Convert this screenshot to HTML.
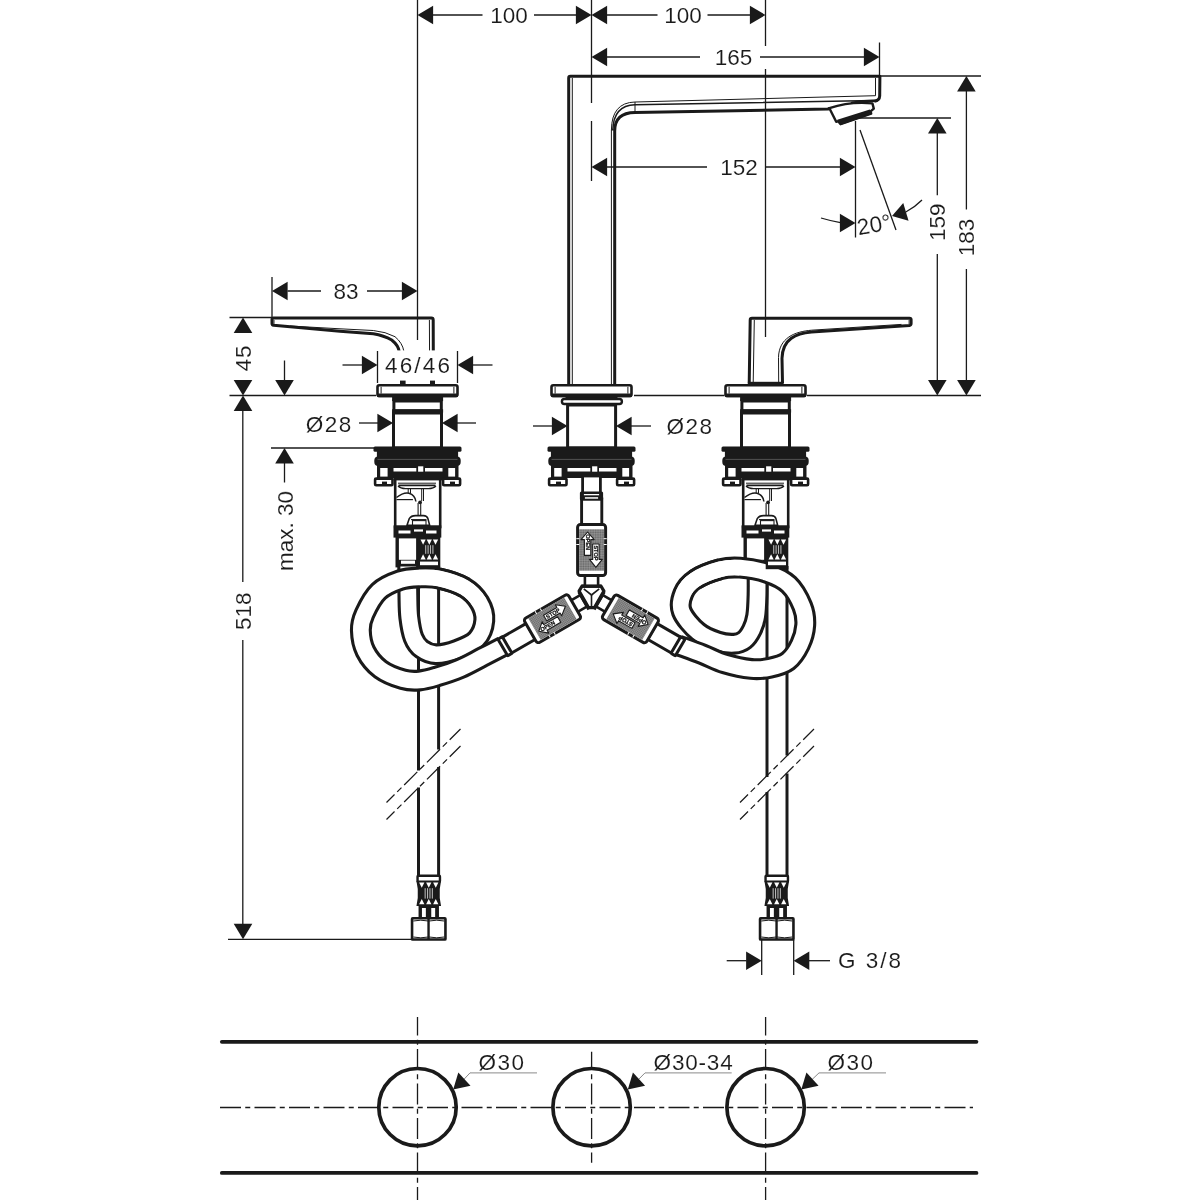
<!DOCTYPE html>
<html lang="en">
<head>
<meta charset="utf-8">
<title>Dimensional drawing</title>
<style>
html,body{margin:0;padding:0;background:#fff;}
body{width:1200px;height:1200px;overflow:hidden;}
svg{display:block;will-change:transform;}
svg text{font-family:"Liberation Sans",sans-serif;fill:#1a1a1a;stroke:#fff;stroke-width:0.12px;}
svg line, svg path, svg polyline, svg circle, svg rect, svg ellipse{stroke:#1a1a1a;fill:none;}
svg .ar{fill:#1a1a1a;stroke:none;}
svg .k{fill:#1a1a1a;stroke:none;}
svg .w{fill:#fff;stroke:none;}
svg .wf{fill:#fff;stroke:#1a1a1a;}
svg .g{fill:#8a8a8a;stroke:none;}
</style>
</head>
<body>
<svg width="1200" height="1200" viewBox="0 0 1200 1200">
<rect class="w" x="0" y="0" width="1200" height="1200"/>
<g id="bottom">
<line x1="221.8" y1="1041.8" x2="976.5" y2="1041.8" stroke-width="3.7" stroke-linecap="round"/>
<line x1="221.8" y1="1172.9" x2="976.5" y2="1172.9" stroke-width="3.7" stroke-linecap="round"/>
<line x1="220" y1="1107.5" x2="973" y2="1107.5" stroke-width="1.3" stroke-dasharray="21 4.25 5 4.25"/>
<line x1="417.5" y1="1017" x2="417.5" y2="1200" stroke-width="1.3" stroke-dasharray="21 4.25 5 4.25" stroke-dashoffset="2.5"/>
<circle cx="417.5" cy="1107.2" r="38.7" stroke-width="3.7"/>
<line x1="591.6" y1="1051.8" x2="591.6" y2="1162.8" stroke-width="1.3" stroke-dasharray="21 4.25 5 4.25" stroke-dashoffset="2.8"/>
<circle cx="591.6" cy="1107.2" r="38.7" stroke-width="3.7"/>
<line x1="765.6" y1="1017" x2="765.6" y2="1200" stroke-width="1.3" stroke-dasharray="21 4.25 5 4.25" stroke-dashoffset="2.5"/>
<circle cx="765.6" cy="1107.2" r="38.7" stroke-width="3.7"/>
<path d="M537,1072.9 H470 L462.2,1081.2" stroke-width="1" style="stroke:#8a8a8a"/>
<polygon class="ar" points="453.20,1089.40 458.33,1072.50 470.49,1085.77"/>
<text x="478.6" y="1070.4" font-size="22.5" text-anchor="start" letter-spacing="1.5">Ø30</text>
<path d="M731.7,1072.9 H645 L636.8,1081.2" stroke-width="1" style="stroke:#8a8a8a"/>
<polygon class="ar" points="627.80,1089.40 632.93,1072.50 645.09,1085.77"/>
<text x="653.6" y="1070.4" font-size="22.5" text-anchor="start" letter-spacing="0.8">Ø30-34</text>
<path d="M886,1072.9 H819 L810.3,1081.2" stroke-width="1" style="stroke:#8a8a8a"/>
<polygon class="ar" points="801.30,1089.40 806.43,1072.50 818.59,1085.77"/>
<text x="827.6" y="1070.4" font-size="22.5" text-anchor="start" letter-spacing="1.5">Ø30</text>
</g>
<g id="spout">
<path d="M568.7,384 V78 Q568.7,76.3 570.4,76.3 H879.9 L879.7,96 Q879.5,100.6 874.5,101.2" stroke-width="3" stroke-linejoin="round"/>
<line x1="572.3" y1="78" x2="572.3" y2="384" stroke-width="1" />
<path d="M614.7,384 V131 Q614.7,112.8 635,112.6 L828,109 L829.5,108.4" stroke-width="3" stroke-linejoin="round"/>
<path d="M611.4,384 V130 Q611.6,102.6 635,102 L875.5,95.7 V78" stroke-width="1"/>
<path d="M612.8,130 Q613.5,105.3 635,104.7 L874.5,100.4" stroke-width="1.5"/>
<line x1="635" y1="102" x2="635" y2="111" stroke-width="1" />
<line x1="611" y1="130" x2="616" y2="130" stroke-width="1" />
<path class="wf" d="M829.4,108.2 L836.2,121.8 L838.2,121.2 L840.6,124.2 L871.2,113.6 L870.6,111.4 L873.8,108.6 L872.4,103.4 Q850,101.2 829.4,108.2 Z" stroke-width="2.4" stroke-linejoin="round"/>
<path d="M876.2,100.7 Q864,100.9 852,102.6" stroke-width="2.4" stroke-linecap="round"/>
<polygon class="k" points="837.3,119.8 840.6,125 872,114 869.8,109.4"/>
</g>
<g id="handles">
<g transform="translate(765.5 0)">
<path d="M-16.3,383.5 L-15.3,320 Q-15.3,318.2 -13.5,318.2 H144 Q145.6,318.2 145.6,319.6 V323.6 Q145.6,325.3 144,325.5 L46,332 C31,333.4 17,338.5 16.5,358.3 L17,383" stroke-width="3" stroke-linejoin="round"/>
<path d="M-12.3,383 L-11.2,320" stroke-width="1"/>
<path d="M13.2,383 L13,357.5 C13.4,338 29,331.6 46,330.2 L136,324.4" stroke-width="1"/>
<path d="M143.6,320 V324.5" stroke-width="0.9"/>
<rect class="k" x="-17.6" y="381.8" width="35.8" height="2.6"/>
</g>
<path d="M433.4,383 L433.2,320 Q433.2,318 431.4,318 H273.4 Q272,318 272,319.4 V323.4 Q272,325 273.6,325.2 L340,331.3 L373.3,333.8 Q384,335.6 391.7,340 Q398.6,345.5 399.3,352 L399.8,383" stroke-width="3" stroke-linejoin="round"/>
<path d="M429.4,320 L429.7,383" stroke-width="1"/>
<path d="M290,326 L340,328.8 L373.3,330.5 Q386,331.8 395,336.7 Q402.5,343 403.8,351 L404,383" stroke-width="1"/>
<path d="M274,320 V324.5" stroke-width="0.9"/>
<rect class="w" x="378.3" y="350.4" width="78.4" height="33"/>
<rect class="k" x="400" y="380.6" width="5.6" height="3.6"/><rect class="k" x="430" y="380.6" width="5" height="3.6"/>
</g>
<g id="supply">
<rect class="w" x="417.1" y="566" width="22.900000000000023" height="310"/>
<line x1="418.5" y1="566" x2="418.5" y2="770.5" stroke-width="3" />
<line x1="418.5" y1="787.5" x2="418.5" y2="876" stroke-width="3" />
<line x1="438.6" y1="566" x2="438.6" y2="749.5" stroke-width="3" />
<line x1="438.6" y1="767" x2="438.6" y2="876" stroke-width="3" />
<line x1="386.5" y1="802.5" x2="460.5" y2="729" stroke-width="1.25" stroke-dasharray="18.5 3.8 6 3.8" stroke-dashoffset="7.2"/>
<line x1="386.5" y1="819.5" x2="460.5" y2="746" stroke-width="1.25" stroke-dasharray="18.5 3.8 6 3.8" stroke-dashoffset="7.2"/>
<rect class="w" x="765.6" y="566" width="22.8" height="310"/>
<line x1="767.0" y1="566" x2="767.0" y2="777" stroke-width="3" />
<line x1="767.0" y1="792" x2="767.0" y2="876" stroke-width="3" />
<line x1="787.0" y1="566" x2="787.0" y2="755.5" stroke-width="3" />
<line x1="787.0" y1="773.5" x2="787.0" y2="876" stroke-width="3" />
<line x1="740.0" y1="802.5" x2="814.0" y2="729" stroke-width="1.25" stroke-dasharray="18.5 3.8 6 3.8" stroke-dashoffset="7.2"/>
<line x1="740.0" y1="819.5" x2="814.0" y2="746" stroke-width="1.25" stroke-dasharray="18.5 3.8 6 3.8" stroke-dashoffset="7.2"/>
</g>
<g id="valves">
<g transform="translate(417.5 0)">
<rect class="wf" x="-22.3" y="478" width="45" height="49" stroke-width="2.6"/>
<rect class="k" x="-24.00" y="472.40" width="50.50" height="8.00" />
<line x1="-19.5" y1="483.2" x2="18.5" y2="483.2" stroke-width="1" />
<path d="M-19,485.4 H18" stroke-width="1.6"/>
<path d="M-19.5,486 Q-17,488.6 -12,488.6 H11 Q16,488.6 18.5,486" stroke-width="1.3"/>
<line x1="-9.3" y1="488.6" x2="-9.3" y2="493" stroke-width="1" />
<line x1="-7" y1="488.6" x2="-7" y2="493.4" stroke-width="1" />
<line x1="4.2" y1="488.6" x2="4.2" y2="501" stroke-width="1" />
<line x1="6" y1="488.6" x2="6" y2="501" stroke-width="1" />
<path d="M-21,497.5 Q-14,492 -8.5,493.2 Q-2.5,495 -1.6,501.5" stroke-width="1.5"/>
<line x1="-21" y1="499.6" x2="-4.6" y2="499.6" stroke-width="1.2" />
<circle class="k" cx="2.6" cy="502.3" r="1.9"/>
<line x1="0.6" y1="503" x2="0.6" y2="515.5" stroke-width="1.1" />
<line x1="3.2" y1="503" x2="3.2" y2="515.5" stroke-width="1.1" />
<path class="wf" d="M-10.6,525.4 L-8.2,518.6 Q-6.4,515.6 -2,515.6 H6 Q9.4,515.6 10.4,518.6 L12.2,525.4 Z" stroke-width="1.6" stroke-linejoin="round"/>
<line x1="-6.5" y1="519.6" x2="9" y2="519.6" stroke-width="1.1" />
<rect x="-5" y="520.6" width="13.5" height="5" stroke-width="1.1"/>
<rect class="k" x="-24.00" y="525.40" width="47.80" height="12.20" />
<rect class="w" x="-19.00" y="530.50" width="12.00" height="3.00" />
<rect class="w" x="8.50" y="530.50" width="10.50" height="3.00" />
<rect class="w" x="-3.50" y="529.40" width="9.00" height="2.20" />
<rect class="k" x="-22.00" y="536.00" width="23.00" height="31.40" />
<rect class="w" x="-18.60" y="538.40" width="17.20" height="21.40" />
<rect class="w" x="-16.50" y="560.60" width="14.00" height="3.20" />
</g>
<g transform="translate(417.5 0)">
<rect class="wf" x="-40" y="385.3" width="80" height="10.6" rx="1.8" stroke-width="2.6"/>
<rect class="k" x="-40.80" y="393.60" width="81.60" height="3.60" rx="1.4"/>
<line x1="-36.4" y1="386.8" x2="-36.4" y2="393.6" stroke-width="1" />
<line x1="36.4" y1="386.8" x2="36.4" y2="393.6" stroke-width="1" />
<rect class="k" x="-25.40" y="396.50" width="51.00" height="4.60" />
<rect class="wf" x="-23.6" y="401" width="47.4" height="10" stroke-width="3"/>
<rect class="k" x="-25.40" y="409.20" width="51.00" height="3.40" />
<rect class="wf" x="-24" y="413" width="48" height="35" stroke-width="3"/>
<rect class="k" x="-44.00" y="446.60" width="88.00" height="5.20" rx="1.5"/>
<rect class="k" x="-40.60" y="450.00" width="81.20" height="8.00" />
<rect class="k" x="-43.20" y="456.60" width="86.40" height="9.40" rx="4"/>
<line x1="-40" y1="459.4" x2="40" y2="459.4" stroke-width="0.7" style="stroke:#6a6a6a"/>
<rect class="k" x="-40.50" y="465.00" width="81.50" height="13.00" />
<rect class="w" x="-37.30" y="468.00" width="7.40" height="8.60" />
<rect class="w" x="30.80" y="468.00" width="6.80" height="8.60" />
<rect class="w" x="-24.00" y="468.00" width="22.80" height="3.50" />
<rect class="w" x="7.50" y="468.00" width="17.50" height="3.50" />
<rect class="w" x="0.60" y="466.30" width="5.20" height="5.40" />
<rect class="wf" x="-42.4" y="478.6" width="17.4" height="6.6" rx="1" stroke-width="2.6"/>
<rect class="wf" x="25.6" y="478.6" width="17" height="6.6" rx="1" stroke-width="2.6"/>
<rect class="k" x="-35.50" y="481.60" width="5.00" height="2.40" />
<rect class="k" x="32.50" y="481.60" width="5.00" height="2.40" />
</g>
<g transform="translate(765.5 0)">
<rect class="wf" x="-22.3" y="478" width="45" height="49" stroke-width="2.6"/>
<rect class="k" x="-24.00" y="472.40" width="50.50" height="8.00" />
<line x1="-19.5" y1="483.2" x2="18.5" y2="483.2" stroke-width="1" />
<path d="M-19,485.4 H18" stroke-width="1.6"/>
<path d="M-19.5,486 Q-17,488.6 -12,488.6 H11 Q16,488.6 18.5,486" stroke-width="1.3"/>
<line x1="-9.3" y1="488.6" x2="-9.3" y2="493" stroke-width="1" />
<line x1="-7" y1="488.6" x2="-7" y2="493.4" stroke-width="1" />
<line x1="4.2" y1="488.6" x2="4.2" y2="501" stroke-width="1" />
<line x1="6" y1="488.6" x2="6" y2="501" stroke-width="1" />
<path d="M-21,497.5 Q-14,492 -8.5,493.2 Q-2.5,495 -1.6,501.5" stroke-width="1.5"/>
<line x1="-21" y1="499.6" x2="-4.6" y2="499.6" stroke-width="1.2" />
<circle class="k" cx="2.6" cy="502.3" r="1.9"/>
<line x1="0.6" y1="503" x2="0.6" y2="515.5" stroke-width="1.1" />
<line x1="3.2" y1="503" x2="3.2" y2="515.5" stroke-width="1.1" />
<path class="wf" d="M-10.6,525.4 L-8.2,518.6 Q-6.4,515.6 -2,515.6 H6 Q9.4,515.6 10.4,518.6 L12.2,525.4 Z" stroke-width="1.6" stroke-linejoin="round"/>
<line x1="-6.5" y1="519.6" x2="9" y2="519.6" stroke-width="1.1" />
<rect x="-5" y="520.6" width="13.5" height="5" stroke-width="1.1"/>
<rect class="k" x="-24.00" y="525.40" width="47.80" height="12.20" />
<rect class="w" x="-19.00" y="530.50" width="12.00" height="3.00" />
<rect class="w" x="8.50" y="530.50" width="10.50" height="3.00" />
<rect class="w" x="-3.50" y="529.40" width="9.00" height="2.20" />
<rect class="k" x="-22.00" y="536.00" width="23.00" height="31.40" />
<rect class="w" x="-18.60" y="538.40" width="17.20" height="21.40" />
<rect class="w" x="-16.50" y="560.60" width="14.00" height="3.20" />
</g>
<g transform="translate(765.5 0)">
<rect class="wf" x="-40" y="385.3" width="80" height="10.6" rx="1.8" stroke-width="2.6"/>
<rect class="k" x="-40.80" y="393.60" width="81.60" height="3.60" rx="1.4"/>
<line x1="-36.4" y1="386.8" x2="-36.4" y2="393.6" stroke-width="1" />
<line x1="36.4" y1="386.8" x2="36.4" y2="393.6" stroke-width="1" />
<rect class="k" x="-25.40" y="396.50" width="51.00" height="4.60" />
<rect class="wf" x="-23.6" y="401" width="47.4" height="10" stroke-width="3"/>
<rect class="k" x="-25.40" y="409.20" width="51.00" height="3.40" />
<rect class="wf" x="-24" y="413" width="48" height="35" stroke-width="3"/>
<rect class="k" x="-44.00" y="446.60" width="88.00" height="5.20" rx="1.5"/>
<rect class="k" x="-40.60" y="450.00" width="81.20" height="8.00" />
<rect class="k" x="-43.20" y="456.60" width="86.40" height="9.40" rx="4"/>
<line x1="-40" y1="459.4" x2="40" y2="459.4" stroke-width="0.7" style="stroke:#6a6a6a"/>
<rect class="k" x="-40.50" y="465.00" width="81.50" height="13.00" />
<rect class="w" x="-37.30" y="468.00" width="7.40" height="8.60" />
<rect class="w" x="30.80" y="468.00" width="6.80" height="8.60" />
<rect class="w" x="-24.00" y="468.00" width="22.80" height="3.50" />
<rect class="w" x="7.50" y="468.00" width="17.50" height="3.50" />
<rect class="w" x="0.60" y="466.30" width="5.20" height="5.40" />
<rect class="wf" x="-42.4" y="478.6" width="17.4" height="6.6" rx="1" stroke-width="2.6"/>
<rect class="wf" x="25.6" y="478.6" width="17" height="6.6" rx="1" stroke-width="2.6"/>
<rect class="k" x="-35.50" y="481.60" width="5.00" height="2.40" />
<rect class="k" x="32.50" y="481.60" width="5.00" height="2.40" />
</g>
<g transform="translate(591.5 0)">
<rect class="wf" x="-40" y="385.3" width="80" height="10.6" rx="1.8" stroke-width="2.6"/>
<rect class="k" x="-40.80" y="393.60" width="81.60" height="3.60" rx="1.4"/>
<line x1="-36.4" y1="386.8" x2="-36.4" y2="393.6" stroke-width="1" />
<line x1="36.4" y1="386.8" x2="36.4" y2="393.6" stroke-width="1" />
<rect class="k" x="-26.00" y="396.50" width="52.00" height="3.40" />
<rect class="wf" x="-29.6" y="399" width="60" height="5" rx="2.5" stroke-width="2.4"/>
<rect class="wf" x="-23.9" y="405" width="48" height="43" stroke-width="3"/>
<rect class="k" x="-44.00" y="446.60" width="88.00" height="5.20" rx="1.5"/>
<rect class="k" x="-40.60" y="450.00" width="81.20" height="8.00" />
<rect class="k" x="-43.20" y="456.60" width="86.40" height="9.40" rx="4"/>
<line x1="-40" y1="459.4" x2="40" y2="459.4" stroke-width="0.7" style="stroke:#6a6a6a"/>
<rect class="k" x="-40.50" y="465.00" width="81.50" height="13.00" />
<rect class="w" x="-37.30" y="468.00" width="7.40" height="8.60" />
<rect class="w" x="30.80" y="468.00" width="6.80" height="8.60" />
<rect class="w" x="-24.00" y="468.00" width="22.80" height="3.50" />
<rect class="w" x="7.50" y="468.00" width="17.50" height="3.50" />
<rect class="w" x="0.60" y="466.30" width="5.20" height="5.40" />
<rect class="wf" x="-42.4" y="478.6" width="17.4" height="6.6" rx="1" stroke-width="2.6"/>
<rect class="wf" x="25.6" y="478.6" width="17" height="6.6" rx="1" stroke-width="2.6"/>
<rect class="k" x="-35.50" y="481.60" width="5.00" height="2.40" />
<rect class="k" x="32.50" y="481.60" width="5.00" height="2.40" />
</g>
</g>
<g id="loops">
<path d="M408.25,566.50 C408.27,571.25 408.22,586.50 408.40,595.00 C408.57,603.50 408.45,610.38 409.30,617.50 C410.15,624.62 411.43,632.50 413.50,637.75 C415.57,643.00 418.00,646.25 421.75,649.00 C425.50,651.75 430.12,654.12 436.00,654.25 C441.88,654.38 450.25,652.25 457.00,649.75 C463.75,647.25 471.95,644.12 476.50,639.25 C481.05,634.38 483.80,626.62 484.30,620.50 C484.80,614.38 482.80,608.00 479.50,602.50 C476.20,597.00 471.25,591.50 464.50,587.50 C457.75,583.50 446.50,580.17 439.00,578.50" stroke-width="21.9" stroke-linecap="butt" stroke-linejoin="round"/>
<path d="M408.25,566.50 C408.27,571.25 408.22,586.50 408.40,595.00 C408.57,603.50 408.45,610.38 409.30,617.50 C410.15,624.62 411.43,632.50 413.50,637.75 C415.57,643.00 418.00,646.25 421.75,649.00 C425.50,651.75 430.12,654.12 436.00,654.25 C441.88,654.38 450.25,652.25 457.00,649.75 C463.75,647.25 471.95,644.12 476.50,639.25 C481.05,634.38 483.80,626.62 484.30,620.50 C484.80,614.38 482.80,608.00 479.50,602.50 C476.20,597.00 471.25,591.50 464.50,587.50 C457.75,583.50 446.50,580.17 439.00,578.50" stroke-width="15.7" stroke-linecap="butt" stroke-linejoin="round" style="stroke:#fff"/>
<path d="M464.50,587.50 C457.75,583.50 446.50,580.17 439.00,578.50 C431.50,576.83 426.00,577.18 419.50,577.45 C413.00,577.73 406.80,577.83 400.00,580.15 C393.20,582.47 384.60,585.80 378.70,591.40 C372.80,597.00 367.58,607.27 364.60,613.75 C361.62,620.23 360.70,624.00 360.85,630.25 C361.00,636.50 362.23,644.75 365.50,651.25 C368.77,657.75 374.25,664.58 380.50,669.25 C386.75,673.92 396.50,677.42 403.00,679.30 C409.50,681.17 413.75,681.00 419.50,680.50 C425.25,680.00 430.75,678.30 437.50,676.30 C444.25,674.30 452.50,671.70 460.00,668.50 C467.50,665.30 475.38,660.75 482.50,657.10 C489.62,653.45 499.38,648.35 502.75,646.60" stroke-width="21.9" stroke-linecap="butt" stroke-linejoin="round"/>
<path d="M464.50,587.50 C457.75,583.50 446.50,580.17 439.00,578.50 C431.50,576.83 426.00,577.18 419.50,577.45 C413.00,577.73 406.80,577.83 400.00,580.15 C393.20,582.47 384.60,585.80 378.70,591.40 C372.80,597.00 367.58,607.27 364.60,613.75 C361.62,620.23 360.70,624.00 360.85,630.25 C361.00,636.50 362.23,644.75 365.50,651.25 C368.77,657.75 374.25,664.58 380.50,669.25 C386.75,673.92 396.50,677.42 403.00,679.30 C409.50,681.17 413.75,681.00 419.50,680.50 C425.25,680.00 430.75,678.30 437.50,676.30 C444.25,674.30 452.50,671.70 460.00,668.50 C467.50,665.30 475.38,660.75 482.50,657.10 C489.62,653.45 499.38,648.35 502.75,646.60" stroke-width="15.7" stroke-linecap="butt" stroke-linejoin="round" style="stroke:#fff"/>
<path d="M479.50,602.50 C476.20,597.00 471.25,591.50 464.50,587.50 C457.75,583.50 446.50,580.17 439.00,578.50 C431.50,576.83 426.00,577.18 419.50,577.45" stroke-width="15.399999999999999" style="stroke:#fff"/>
<path d="M757.55,566.50 C757.55,571.25 757.77,586.75 757.55,595.00 C757.32,603.25 757.12,610.25 756.20,616.00 C755.28,621.75 753.95,625.50 752.00,629.50 C750.05,633.50 747.50,637.62 744.50,640.00 C741.50,642.38 738.50,643.50 734.00,643.75 C729.50,644.00 723.50,643.50 717.50,641.50 C711.50,639.50 703.95,636.75 698.00,631.75 C692.05,626.75 684.25,617.88 681.80,611.50 C679.35,605.12 681.10,598.80 683.30,593.50 C685.50,588.20 688.80,583.75 695.00,579.70 C701.20,575.65 713.00,571.20 720.50,569.20" stroke-width="21.9" stroke-linecap="butt" stroke-linejoin="round"/>
<path d="M757.55,566.50 C757.55,571.25 757.77,586.75 757.55,595.00 C757.32,603.25 757.12,610.25 756.20,616.00 C755.28,621.75 753.95,625.50 752.00,629.50 C750.05,633.50 747.50,637.62 744.50,640.00 C741.50,642.38 738.50,643.50 734.00,643.75 C729.50,644.00 723.50,643.50 717.50,641.50 C711.50,639.50 703.95,636.75 698.00,631.75 C692.05,626.75 684.25,617.88 681.80,611.50 C679.35,605.12 681.10,598.80 683.30,593.50 C685.50,588.20 688.80,583.75 695.00,579.70 C701.20,575.65 713.00,571.20 720.50,569.20" stroke-width="15.7" stroke-linecap="butt" stroke-linejoin="round" style="stroke:#fff"/>
<path d="M695.00,579.70 C701.20,575.65 713.00,571.20 720.50,569.20 C728.00,567.20 732.25,567.10 740.00,567.70 C747.75,568.30 758.88,570.00 767.00,572.80 C775.12,575.60 782.88,578.92 788.75,584.50 C794.62,590.08 799.50,599.50 802.25,606.25 C805.00,613.00 805.62,618.62 805.25,625.00 C804.88,631.38 802.88,638.50 800.00,644.50 C797.12,650.50 793.00,657.12 788.00,661.00 C783.00,664.88 776.12,666.42 770.00,667.75 C763.88,669.08 758.75,669.65 751.25,668.95 C743.75,668.25 733.12,666.00 725.00,663.55 C716.88,661.10 710.25,657.27 702.50,654.25 C694.75,651.23 682.50,646.88 678.50,645.40" stroke-width="21.9" stroke-linecap="butt" stroke-linejoin="round"/>
<path d="M695.00,579.70 C701.20,575.65 713.00,571.20 720.50,569.20 C728.00,567.20 732.25,567.10 740.00,567.70 C747.75,568.30 758.88,570.00 767.00,572.80 C775.12,575.60 782.88,578.92 788.75,584.50 C794.62,590.08 799.50,599.50 802.25,606.25 C805.00,613.00 805.62,618.62 805.25,625.00 C804.88,631.38 802.88,638.50 800.00,644.50 C797.12,650.50 793.00,657.12 788.00,661.00 C783.00,664.88 776.12,666.42 770.00,667.75 C763.88,669.08 758.75,669.65 751.25,668.95 C743.75,668.25 733.12,666.00 725.00,663.55 C716.88,661.10 710.25,657.27 702.50,654.25 C694.75,651.23 682.50,646.88 678.50,645.40" stroke-width="15.7" stroke-linecap="butt" stroke-linejoin="round" style="stroke:#fff"/>
<path d="M683.30,593.50 C685.50,588.20 688.80,583.75 695.00,579.70 C701.20,575.65 713.00,571.20 720.50,569.20 C728.00,567.20 732.25,567.10 740.00,567.70" stroke-width="15.399999999999999" style="stroke:#fff"/>
</g>
<g transform="translate(417.5 0)">
<rect class="k" x="0.20" y="536.00" width="22.60" height="33.20" />
<rect class="w" x="2.50" y="561.60" width="18.00" height="3.60" />
<polygon class="w" points="3.00,539.60 8.20,539.60 5.60,544.80"/>
<polygon class="w" points="3.00,559.40 8.20,559.40 5.60,554.20"/>
<polygon class="w" points="9.20,539.60 14.40,539.60 11.80,544.80"/>
<polygon class="w" points="9.20,559.40 14.40,559.40 11.80,554.20"/>
<polygon class="w" points="15.40,539.60 20.60,539.60 18.00,544.80"/>
<polygon class="w" points="15.40,559.40 20.60,559.40 18.00,554.20"/>
<rect x="7.65" y="545.20" width="1.1" height="8.60" style="fill:#b5b5b5;stroke:none"/>
<rect x="10.05" y="545.20" width="1.1" height="8.60" style="fill:#b5b5b5;stroke:none"/>
<rect x="12.45" y="545.20" width="1.1" height="8.60" style="fill:#b5b5b5;stroke:none"/>
<rect x="14.85" y="545.20" width="1.1" height="8.60" style="fill:#b5b5b5;stroke:none"/>
</g>
<g transform="translate(765.5 0)">
<rect class="k" x="0.20" y="536.00" width="22.60" height="33.20" />
<rect class="w" x="2.50" y="561.60" width="18.00" height="3.60" />
<polygon class="w" points="3.00,539.60 8.20,539.60 5.60,544.80"/>
<polygon class="w" points="3.00,559.40 8.20,559.40 5.60,554.20"/>
<polygon class="w" points="9.20,539.60 14.40,539.60 11.80,544.80"/>
<polygon class="w" points="9.20,559.40 14.40,559.40 11.80,554.20"/>
<polygon class="w" points="15.40,539.60 20.60,539.60 18.00,544.80"/>
<polygon class="w" points="15.40,559.40 20.60,559.40 18.00,554.20"/>
<rect x="7.65" y="545.20" width="1.1" height="8.60" style="fill:#b5b5b5;stroke:none"/>
<rect x="10.05" y="545.20" width="1.1" height="8.60" style="fill:#b5b5b5;stroke:none"/>
<rect x="12.45" y="545.20" width="1.1" height="8.60" style="fill:#b5b5b5;stroke:none"/>
<rect x="14.85" y="545.20" width="1.1" height="8.60" style="fill:#b5b5b5;stroke:none"/>
</g>
<defs><pattern id="ht" width="1.7" height="1.7" patternUnits="userSpaceOnUse"><rect class="w" width="1.7" height="1.7" style="fill:#d8d8d8"/><rect class="k" x="0.2" y="0.2" width="1.15" height="1.15"/></pattern></defs>
<g id="centre">
<polygon class="wf" points="581.90,586.20 601.10,586.20 603.92,591.09 594.32,607.71 588.68,607.71 579.08,591.09" stroke-width="3.2" stroke-linejoin="round"/>
<g transform="translate(0 0) rotate(0 591.5 595.0)">
<rect class="wf" x="582.6" y="476" width="17.8" height="18" stroke-width="2.8"/>
<rect class="wf" x="581.6" y="499" width="20.2" height="26" stroke-width="2.9"/>
<rect class="k" x="579.9" y="491.6" width="23.2" height="9" rx="1.5"/>
<rect class="w" x="583.9" y="494" width="15.2" height="1.3"/>
<rect class="w" x="584.9" y="497.2" width="13.2" height="1.5"/>
<rect class="wf" x="584.9" y="575" width="13.2" height="11" stroke-width="2.6"/>
<line x1="581.5" y1="586.2" x2="601.5" y2="586.2" stroke-width="3.2"/>
<rect class="wf" x="577.6" y="524.5" width="28" height="51" rx="2.8" stroke-width="3"/>
<rect x="579.1" y="529.3" width="25" height="41.4" style="fill:url(#ht);stroke:none"/>
<rect class="w" x="576.3" y="538.2" width="3" height="1"/><rect class="w" x="603.7" y="538.2" width="3" height="1"/>
<rect class="w" x="576.3" y="544" width="3" height="1"/><rect class="w" x="603.7" y="544" width="3" height="1"/>
<path class="wf" d="M587.6,532 L594.2,539.6 H590.8000000000001 V555.4 H584.4 V539.6 H581.0 Z" stroke-width="1.1" stroke-linejoin="round"/>
<text x="585.65" y="534.2" font-size="5.6" font-weight="bold" transform="rotate(90 585.65 534.2)" style="fill:#111;stroke:#111;stroke-width:0.25px">OPEN</text>
<path class="wf" d="M595.9,567.4 L602.3,559.4 H599.1 V544 H592.6999999999999 V559.4 H589.5 Z" stroke-width="1.1" stroke-linejoin="round"/>
<text x="593.9499999999999" y="545.4" font-size="5.6" font-weight="bold" transform="rotate(90 593.9499999999999 545.4)" style="fill:#111;stroke:#111;stroke-width:0.25px">STOP</text>
</g>
<g transform="translate(0 1.3) rotate(120 591.5 595.0)">
<rect class="wf" x="582.3" y="497" width="18.4" height="28" stroke-width="3"/>
<rect class="wf" x="581.9" y="492.6" width="19.2" height="5" stroke-width="3" rx="0.8"/>
<rect class="wf" x="584.9" y="575" width="13.2" height="11" stroke-width="2.6"/>
<line x1="581.5" y1="586.2" x2="601.5" y2="586.2" stroke-width="3.2"/>
<rect class="wf" x="577.6" y="524.5" width="28" height="51" rx="2.8" stroke-width="3"/>
<rect x="579.1" y="529.3" width="25" height="41.4" style="fill:url(#ht);stroke:none"/>
<rect class="w" x="576.3" y="538.2" width="3" height="1"/><rect class="w" x="603.7" y="538.2" width="3" height="1"/>
<rect class="w" x="576.3" y="544" width="3" height="1"/><rect class="w" x="603.7" y="544" width="3" height="1"/>
<path class="wf" d="M587.6,532 L594.2,539.6 H590.8000000000001 V555.4 H584.4 V539.6 H581.0 Z" stroke-width="1.1" stroke-linejoin="round"/>
<text x="585.65" y="534.2" font-size="5.6" font-weight="bold" transform="rotate(90 585.65 534.2)" style="fill:#111;stroke:#111;stroke-width:0.25px">OPEN</text>
<path class="wf" d="M595.9,567.4 L602.3,559.4 H599.1 V544 H592.6999999999999 V559.4 H589.5 Z" stroke-width="1.1" stroke-linejoin="round"/>
<text x="593.9499999999999" y="545.4" font-size="5.6" font-weight="bold" transform="rotate(90 593.9499999999999 545.4)" style="fill:#111;stroke:#111;stroke-width:0.25px">STOP</text>
</g>
<g transform="translate(0 1.3) rotate(-120 591.5 595.0)">
<rect class="wf" x="582.3" y="497" width="18.4" height="28" stroke-width="3"/>
<rect class="wf" x="581.9" y="492.6" width="19.2" height="5" stroke-width="3" rx="0.8"/>
<rect class="wf" x="584.9" y="575" width="13.2" height="11" stroke-width="2.6"/>
<line x1="581.5" y1="586.2" x2="601.5" y2="586.2" stroke-width="3.2"/>
<rect class="wf" x="577.6" y="524.5" width="28" height="51" rx="2.8" stroke-width="3"/>
<rect x="579.1" y="529.3" width="25" height="41.4" style="fill:url(#ht);stroke:none"/>
<rect class="w" x="576.3" y="538.2" width="3" height="1"/><rect class="w" x="603.7" y="538.2" width="3" height="1"/>
<rect class="w" x="576.3" y="544" width="3" height="1"/><rect class="w" x="603.7" y="544" width="3" height="1"/>
<path class="wf" d="M587.6,532 L594.2,539.6 H590.8000000000001 V555.4 H584.4 V539.6 H581.0 Z" stroke-width="1.1" stroke-linejoin="round"/>
<text x="585.65" y="534.2" font-size="5.6" font-weight="bold" transform="rotate(90 585.65 534.2)" style="fill:#111;stroke:#111;stroke-width:0.25px">OPEN</text>
<path class="wf" d="M595.9,567.4 L602.3,559.4 H599.1 V544 H592.6999999999999 V559.4 H589.5 Z" stroke-width="1.1" stroke-linejoin="round"/>
<text x="593.9499999999999" y="545.4" font-size="5.6" font-weight="bold" transform="rotate(90 593.9499999999999 545.4)" style="fill:#111;stroke:#111;stroke-width:0.25px">STOP</text>
</g>
<line x1="591.5" y1="595.0" x2="591.5" y2="607.6" stroke-width="1.6" />
<line x1="591.5" y1="595.0" x2="583.78" y2="588.97" stroke-width="1.6" />
<line x1="591.5" y1="595.0" x2="599.22" y2="588.97" stroke-width="1.6" />
</g>
<g id="fittings">
<g transform="translate(428.75 0)">
<rect class="wf" x="-11.2" y="875.7" width="22.4" height="6" stroke-width="2.4" rx="0.8"/>
<path class="k" d="M-12.3,881 H12.3 L11,889 V898 L12.3,906 H-12.3 L-11,898 V889 Z"/>
<polygon class="w" points="-9.60,882.60 -4.40,882.60 -7.00,887.80"/>
<polygon class="w" points="-9.60,904.20 -4.40,904.20 -7.00,899.00"/>
<polygon class="w" points="-2.60,882.60 2.60,882.60 0.00,887.80"/>
<polygon class="w" points="-2.60,904.20 2.60,904.20 0.00,899.00"/>
<polygon class="w" points="4.40,882.60 9.60,882.60 7.00,887.80"/>
<polygon class="w" points="4.40,904.20 9.60,904.20 7.00,899.00"/>
<rect x="-4.15" y="888.20" width="1.1" height="10.40" style="fill:#b5b5b5;stroke:none"/>
<rect x="-1.75" y="888.20" width="1.1" height="10.40" style="fill:#b5b5b5;stroke:none"/>
<rect x="0.65" y="888.20" width="1.1" height="10.40" style="fill:#b5b5b5;stroke:none"/>
<rect x="3.05" y="888.20" width="1.1" height="10.40" style="fill:#b5b5b5;stroke:none"/>
<rect class="k" x="-10.2" y="905.5" width="20.4" height="12.5"/>
<rect class="w" x="-6.8" y="908" width="3.9" height="9.4"/><rect class="w" x="2.5" y="908" width="3.9" height="9.4"/>
<rect class="wf" x="-16.7" y="918.3" width="33.4" height="21.2" stroke-width="2.6" rx="0.6"/>
<path d="M-15.5,921 Q-8,919.4 -0.4,921 M0.4,921 Q8,919.4 15.5,921 M-15.5,937 Q-8,938.6 -0.4,937 M0.4,937 Q8,938.6 15.5,937" stroke-width="1"/>
<line x1="-0.2" y1="918" x2="-0.2" y2="940" stroke-width="2.4" />
</g>
<g transform="translate(776.75 0)">
<rect class="wf" x="-11.2" y="875.7" width="22.4" height="6" stroke-width="2.4" rx="0.8"/>
<path class="k" d="M-12.3,881 H12.3 L11,889 V898 L12.3,906 H-12.3 L-11,898 V889 Z"/>
<polygon class="w" points="-9.60,882.60 -4.40,882.60 -7.00,887.80"/>
<polygon class="w" points="-9.60,904.20 -4.40,904.20 -7.00,899.00"/>
<polygon class="w" points="-2.60,882.60 2.60,882.60 0.00,887.80"/>
<polygon class="w" points="-2.60,904.20 2.60,904.20 0.00,899.00"/>
<polygon class="w" points="4.40,882.60 9.60,882.60 7.00,887.80"/>
<polygon class="w" points="4.40,904.20 9.60,904.20 7.00,899.00"/>
<rect x="-4.15" y="888.20" width="1.1" height="10.40" style="fill:#b5b5b5;stroke:none"/>
<rect x="-1.75" y="888.20" width="1.1" height="10.40" style="fill:#b5b5b5;stroke:none"/>
<rect x="0.65" y="888.20" width="1.1" height="10.40" style="fill:#b5b5b5;stroke:none"/>
<rect x="3.05" y="888.20" width="1.1" height="10.40" style="fill:#b5b5b5;stroke:none"/>
<rect class="k" x="-10.2" y="905.5" width="20.4" height="12.5"/>
<rect class="w" x="-6.8" y="908" width="3.9" height="9.4"/><rect class="w" x="2.5" y="908" width="3.9" height="9.4"/>
<rect class="wf" x="-16.7" y="918.3" width="33.4" height="21.2" stroke-width="2.6" rx="0.6"/>
<path d="M-15.5,921 Q-8,919.4 -0.4,921 M0.4,921 Q8,919.4 15.5,921 M-15.5,937 Q-8,938.6 -0.4,937 M0.4,937 Q8,938.6 15.5,937" stroke-width="1"/>
<line x1="-0.2" y1="918" x2="-0.2" y2="940" stroke-width="2.4" />
</g>
</g>
<g id="dims">
<line x1="417.5" y1="0" x2="417.5" y2="340" stroke-width="1.3" />
<line x1="591.5" y1="0" x2="591.5" y2="103" stroke-width="1.3" />
<line x1="591.5" y1="121" x2="591.5" y2="181" stroke-width="1.3" />
<line x1="765.5" y1="0" x2="765.5" y2="46" stroke-width="1.3" />
<line x1="765.5" y1="69" x2="765.5" y2="337" stroke-width="1.3" />
<polygon class="ar" points="417.50,15.00 433.10,5.70 433.10,24.30"/>
<line x1="433" y1="15" x2="482.5" y2="15" stroke-width="1.3" />
<text x="509" y="23.2" font-size="22.5" text-anchor="middle" >100</text>
<line x1="534" y1="15" x2="576" y2="15" stroke-width="1.3" />
<polygon class="ar" points="591.50,15.00 575.90,24.30 575.90,5.70"/>
<polygon class="ar" points="591.50,15.00 607.10,5.70 607.10,24.30"/>
<line x1="607" y1="15" x2="657.5" y2="15" stroke-width="1.3" />
<text x="683" y="23.2" font-size="22.5" text-anchor="middle" >100</text>
<line x1="707.5" y1="15" x2="750" y2="15" stroke-width="1.3" />
<polygon class="ar" points="765.50,15.00 749.90,24.30 749.90,5.70"/>
<polygon class="ar" points="591.50,57.00 607.10,47.70 607.10,66.30"/>
<line x1="607" y1="57" x2="700" y2="57" stroke-width="1.3" />
<text x="733.5" y="64.9" font-size="22.5" text-anchor="middle" >165</text>
<line x1="760" y1="57" x2="864" y2="57" stroke-width="1.3" />
<polygon class="ar" points="879.50,57.00 863.90,66.30 863.90,47.70"/>
<line x1="879.5" y1="42.5" x2="879.5" y2="76" stroke-width="1.3" />
<line x1="879.5" y1="76" x2="981" y2="76" stroke-width="1.3" />
<polygon class="ar" points="591.50,167.00 607.10,157.70 607.10,176.30"/>
<line x1="607" y1="167" x2="707" y2="167" stroke-width="1.3" />
<text x="739" y="175.1" font-size="22.5" text-anchor="middle" >152</text>
<line x1="766" y1="167" x2="840" y2="167" stroke-width="1.3" />
<polygon class="ar" points="855.50,167.00 839.90,176.30 839.90,157.70"/>
<line x1="855.5" y1="121" x2="855.5" y2="237.5" stroke-width="1.3" />
<line x1="855" y1="118" x2="951" y2="118" stroke-width="1.3" />
<polygon class="ar" points="937.30,118.00 946.60,133.60 928.00,133.60"/>
<line x1="937.3" y1="133" x2="937.3" y2="195.3" stroke-width="1.3" />
<text x="945.3" y="222.3" font-size="22.5" text-anchor="middle" transform="rotate(-90 945.3 222.3)" >159</text>
<line x1="937.3" y1="254" x2="937.3" y2="380" stroke-width="1.3" />
<polygon class="ar" points="937.30,395.50 928.00,379.90 946.60,379.90"/>
<polygon class="ar" points="966.40,76.00 975.70,91.60 957.10,91.60"/>
<line x1="966.4" y1="91" x2="966.4" y2="209.5" stroke-width="1.3" />
<text x="974.3" y="237.5" font-size="22.5" text-anchor="middle" transform="rotate(-90 974.3 237.5)" >183</text>
<line x1="966.4" y1="269" x2="966.4" y2="380" stroke-width="1.3" />
<polygon class="ar" points="966.40,395.50 957.10,379.90 975.70,379.90"/>
<line x1="860" y1="130" x2="896" y2="230" stroke-width="1.3" />
<text x="858.6" y="235.2" font-size="22.5" text-anchor="start" transform="rotate(-10 858.6 235.2)" >20°</text>
<polygon class="ar" points="855.50,223.00 839.90,232.30 839.90,213.70"/>
<path d="M821,218 Q831,221 840.5,222.6" stroke-width="1.3"/>
<polygon class="ar" points="892.00,216.00 903.26,202.96 908.54,220.80"/>
<path d="M905.8,212 Q914.5,207.5 922,200" stroke-width="1.3"/>
<line x1="229.5" y1="395.5" x2="376" y2="395.5" stroke-width="1.3" />
<line x1="634" y1="395.5" x2="724.5" y2="395.5" stroke-width="1.3" />
<line x1="807" y1="395.5" x2="981" y2="395.5" stroke-width="1.3" />
<line x1="272" y1="277" x2="272" y2="318" stroke-width="1.3" />
<polygon class="ar" points="272.00,291.00 287.60,281.70 287.60,300.30"/>
<line x1="287.5" y1="291" x2="321" y2="291" stroke-width="1.3" />
<text x="346" y="298.9" font-size="22.5" text-anchor="middle" >83</text>
<line x1="367" y1="291" x2="402" y2="291" stroke-width="1.3" />
<polygon class="ar" points="417.50,291.00 401.90,300.30 401.90,281.70"/>
<line x1="229.5" y1="317.5" x2="272" y2="317.5" stroke-width="1.3" />
<polygon class="ar" points="243.00,317.50 252.30,333.10 233.70,333.10"/>
<text x="251.3" y="358" font-size="22.5" text-anchor="middle" transform="rotate(-90 251.3 358)" letter-spacing="0.8">45</text>
<polygon class="ar" points="243.00,395.50 233.70,379.90 252.30,379.90"/>
<polygon class="ar" points="243.00,395.50 252.30,411.10 233.70,411.10"/>
<line x1="242.8" y1="410.5" x2="242.8" y2="582" stroke-width="1.3" />
<text x="251.3" y="611.3" font-size="22.5" text-anchor="middle" transform="rotate(-90 251.3 611.3)" >518</text>
<line x1="242.8" y1="640" x2="242.8" y2="924" stroke-width="1.3" />
<polygon class="ar" points="243.00,939.30 233.70,923.70 252.30,923.70"/>
<line x1="228" y1="939.3" x2="411.5" y2="939.3" stroke-width="1.3" />
<line x1="284.5" y1="360.5" x2="284.5" y2="380.5" stroke-width="1.3" />
<polygon class="ar" points="284.50,395.50 275.20,379.90 293.80,379.90"/>
<line x1="271" y1="448" x2="374" y2="448" stroke-width="1.3" />
<polygon class="ar" points="284.50,448.00 293.80,463.60 275.20,463.60"/>
<line x1="284.5" y1="463" x2="284.5" y2="482.5" stroke-width="1.3" />
<text x="292.5" y="531" font-size="22.5" text-anchor="middle" transform="rotate(-90 292.5 531)" >max. 30</text>
<line x1="377.5" y1="351" x2="377.5" y2="383" stroke-width="1.3" />
<line x1="457.5" y1="351" x2="457.5" y2="383" stroke-width="1.3" />
<line x1="342.5" y1="365" x2="362" y2="365" stroke-width="1.3" />
<polygon class="ar" points="377.50,365.00 361.90,374.30 361.90,355.70"/>
<polygon class="ar" points="457.50,365.00 473.10,355.70 473.10,374.30"/>
<line x1="473" y1="365" x2="492.5" y2="365" stroke-width="1.3" />
<text x="418.6" y="372.9" font-size="22.5" text-anchor="middle" letter-spacing="2.2">46/46</text>
<text x="329.3" y="432.1" font-size="22.5" text-anchor="middle" letter-spacing="1.5">Ø28</text>
<line x1="359" y1="423" x2="378" y2="423" stroke-width="1.3" />
<polygon class="ar" points="393.00,423.00 377.40,432.30 377.40,413.70"/>
<polygon class="ar" points="442.00,423.00 457.60,413.70 457.60,432.30"/>
<line x1="457" y1="423" x2="476" y2="423" stroke-width="1.3" />
<line x1="533" y1="426" x2="552.5" y2="426" stroke-width="1.3" />
<polygon class="ar" points="567.50,426.00 551.90,435.30 551.90,416.70"/>
<polygon class="ar" points="616.00,426.00 631.60,416.70 631.60,435.30"/>
<line x1="631" y1="426" x2="651" y2="426" stroke-width="1.3" />
<text x="690" y="433.9" font-size="22.5" text-anchor="middle" letter-spacing="1.5">Ø28</text>
<line x1="761.7" y1="940" x2="761.7" y2="975" stroke-width="1.3" />
<line x1="793.7" y1="940" x2="793.7" y2="975" stroke-width="1.3" />
<line x1="726.7" y1="960.7" x2="746.7" y2="960.7" stroke-width="1.3" />
<polygon class="ar" points="761.70,960.70 746.10,970.00 746.10,951.40"/>
<polygon class="ar" points="793.70,960.70 809.30,951.40 809.30,970.00"/>
<line x1="809" y1="960.7" x2="830" y2="960.7" stroke-width="1.3" />
<text x="838" y="968.3" font-size="22.5" text-anchor="start" letter-spacing="2">G 3/8</text>
</g>
</svg>
</body>
</html>
